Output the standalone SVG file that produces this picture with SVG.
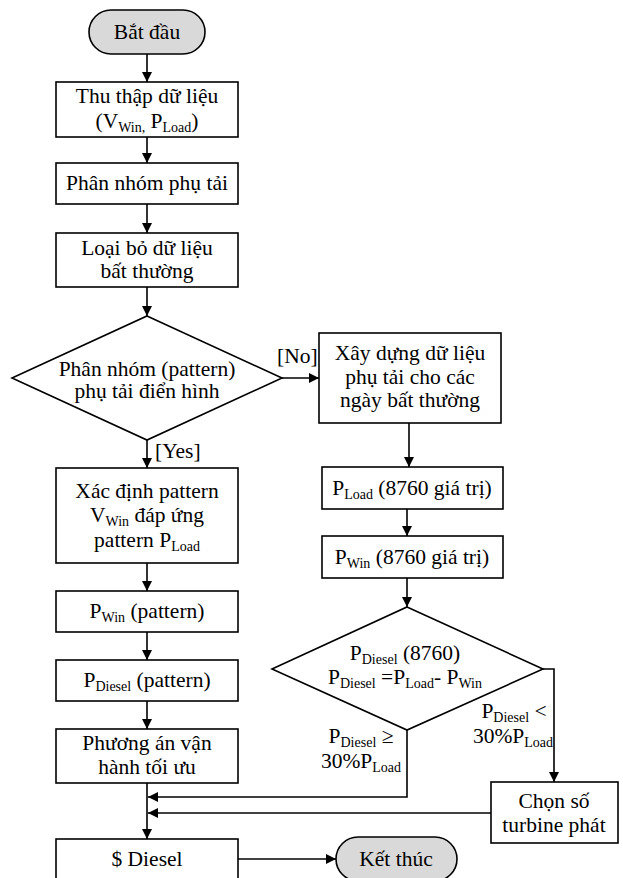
<svg xmlns="http://www.w3.org/2000/svg" width="623" height="878" viewBox="0 0 623 878" font-family="'Liberation Serif', 'Times New Roman', 'DejaVu Serif', serif">
<defs>
<marker id="ah" viewBox="0 0 10 10" refX="10" refY="5" markerWidth="10" markerHeight="10" markerUnits="userSpaceOnUse" orient="auto">
<path d="M0,0 L10,5 L0,10 z" fill="#000"/>
</marker>
<style>
.b{fill:#fff;stroke:#000;stroke-width:1.6}
.t{fill:#d9d9d9;stroke:#000;stroke-width:1.6}
.c{fill:none;stroke:#000;stroke-width:1.6;marker-end:url(#ah)}
text{font-family:'Liberation Serif','Times New Roman','DejaVu Serif',serif;font-size:21.5px;fill:#000;text-anchor:middle}
.s{font-size:14px}
.lbl{text-anchor:start}
</style>
</defs>
<rect width="623" height="878" fill="#fff"/>
<g id="connectors">
<line class="c" x1="147" y1="54" x2="147" y2="82"/>
<line class="c" x1="147" y1="137" x2="147" y2="163"/>
<line class="c" x1="147" y1="204" x2="147" y2="233"/>
<line class="c" x1="147" y1="287" x2="147" y2="316"/>
<line class="c" x1="147" y1="440" x2="147" y2="468"/>
<line class="c" x1="282" y1="378" x2="319" y2="378"/>
<line class="c" x1="409" y1="423" x2="409" y2="467"/>
<line class="c" x1="407" y1="509" x2="407" y2="536"/>
<line class="c" x1="407" y1="578" x2="407" y2="607"/>
<line class="c" x1="147" y1="563" x2="147" y2="591"/>
<line class="c" x1="147" y1="632" x2="147" y2="660"/>
<line class="c" x1="147" y1="701" x2="147" y2="729"/>
<line class="c" x1="147" y1="783" x2="147" y2="839"/>
<polyline class="c" points="407,730 407,797 148,797"/>
<polyline class="c" points="543,669 554,669 554,782"/>
<line class="c" x1="491" y1="813" x2="148" y2="813"/>
<line class="c" x1="238" y1="859" x2="336" y2="859"/>
</g>
<g id="start">
<rect class="t" x="89" y="10" width="116" height="44" rx="22"/>
<text x="147" y="39">Bắt đầu</text>
</g>
<g id="collect">
<rect class="b" x="56" y="82" width="182" height="55"/>
<text x="147" y="103">Thu thập dữ liệu</text>
<text x="147" y="128">(V<tspan class="s" dy="4">Win,</tspan><tspan dy="-4"> P</tspan><tspan class="s" dy="4">Load</tspan><tspan dy="-4">)</tspan></text>
</g>
<g id="group">
<rect class="b" x="56" y="163" width="182" height="41"/>
<text x="147" y="190">Phân nhóm phụ tải</text>
</g>
<g id="remove">
<rect class="b" x="56" y="233" width="182" height="54"/>
<text x="147" y="255">Loại bỏ dữ liệu</text>
<text x="147" y="278">bất thường</text>
</g>
<g id="decision1">
<polygon class="b" points="147,316 282,378 147,440 12,378"/>
<text x="147" y="376">Phân nhóm (pattern)</text>
<text x="147" y="398">phụ tải điển hình</text>
</g>
<g id="build">
<rect class="b" x="319" y="333" width="182" height="90"/>
<text x="410" y="360">Xây dựng dữ liệu</text>
<text x="410" y="384">phụ tải cho các</text>
<text x="410" y="407">ngày bất thường</text>
</g>
<g id="pload8760">
<rect class="b" x="322" y="467" width="181" height="42"/>
<text x="412" y="495">P<tspan class="s" dy="4">Load</tspan><tspan dy="-4"> (8760 giá trị)</tspan></text>
</g>
<g id="pwin8760">
<rect class="b" x="322" y="536" width="181" height="42"/>
<text x="412" y="564">P<tspan class="s" dy="4">Win</tspan><tspan dy="-4"> (8760 giá trị)</tspan></text>
</g>
<g id="decision2">
<polygon class="b" points="407,607 543,669 407,730 272,669"/>
<text x="405" y="660">P<tspan class="s" dy="4">Diesel</tspan><tspan dy="-4"> (8760)</tspan></text>
<text x="405" y="684">P<tspan class="s" dy="4">Diesel</tspan><tspan dy="-4"> =P</tspan><tspan class="s" dy="4">Load</tspan><tspan dy="-4">- P</tspan><tspan class="s" dy="4">Win</tspan></text>
</g>
<g id="pattern">
<rect class="b" x="56" y="468" width="182" height="95"/>
<text x="147" y="498">Xác định pattern</text>
<text x="147" y="522">V<tspan class="s" dy="4">Win</tspan><tspan dy="-4"> đáp ứng</tspan></text>
<text x="147" y="547">pattern P<tspan class="s" dy="4">Load</tspan></text>
</g>
<g id="pwinpattern">
<rect class="b" x="56" y="591" width="182" height="41"/>
<text x="147" y="618">P<tspan class="s" dy="4">Win</tspan><tspan dy="-4"> (pattern)</tspan></text>
</g>
<g id="pdieselpattern">
<rect class="b" x="56" y="660" width="182" height="41"/>
<text x="147" y="687">P<tspan class="s" dy="4">Diesel</tspan><tspan dy="-4"> (pattern)</tspan></text>
</g>
<g id="optimal">
<rect class="b" x="56" y="729" width="182" height="54"/>
<text x="147" y="750">Phương án vận</text>
<text x="147" y="774">hành tối ưu</text>
</g>
<g id="turbine">
<rect class="b" x="491" y="782" width="127" height="61"/>
<text x="554" y="808">Chọn số</text>
<text x="554" y="832">turbine phát</text>
</g>
<g id="diesel">
<rect class="b" x="56" y="839" width="182" height="50"/>
<text x="147" y="866">$ Diesel</text>
</g>
<g id="end">
<rect class="t" x="336" y="837" width="121" height="44" rx="22"/>
<text x="396" y="866">Kết thúc</text>
</g>
<g id="connector-labels">
<text class="lbl" x="277" y="363">[No]</text>
<text class="lbl" x="155" y="458">[Yes]</text>
<text x="514" y="718">P<tspan class="s" dy="4">Diesel</tspan><tspan dy="-4"> &lt;</tspan></text>
<text x="513" y="743">30%P<tspan class="s" dy="4">Load</tspan></text>
<text x="361" y="743">P<tspan class="s" dy="4">Diesel</tspan><tspan dy="-4"> ≥</tspan></text>
<text x="361" y="768">30%P<tspan class="s" dy="4">Load</tspan></text>
</g>
</svg>
